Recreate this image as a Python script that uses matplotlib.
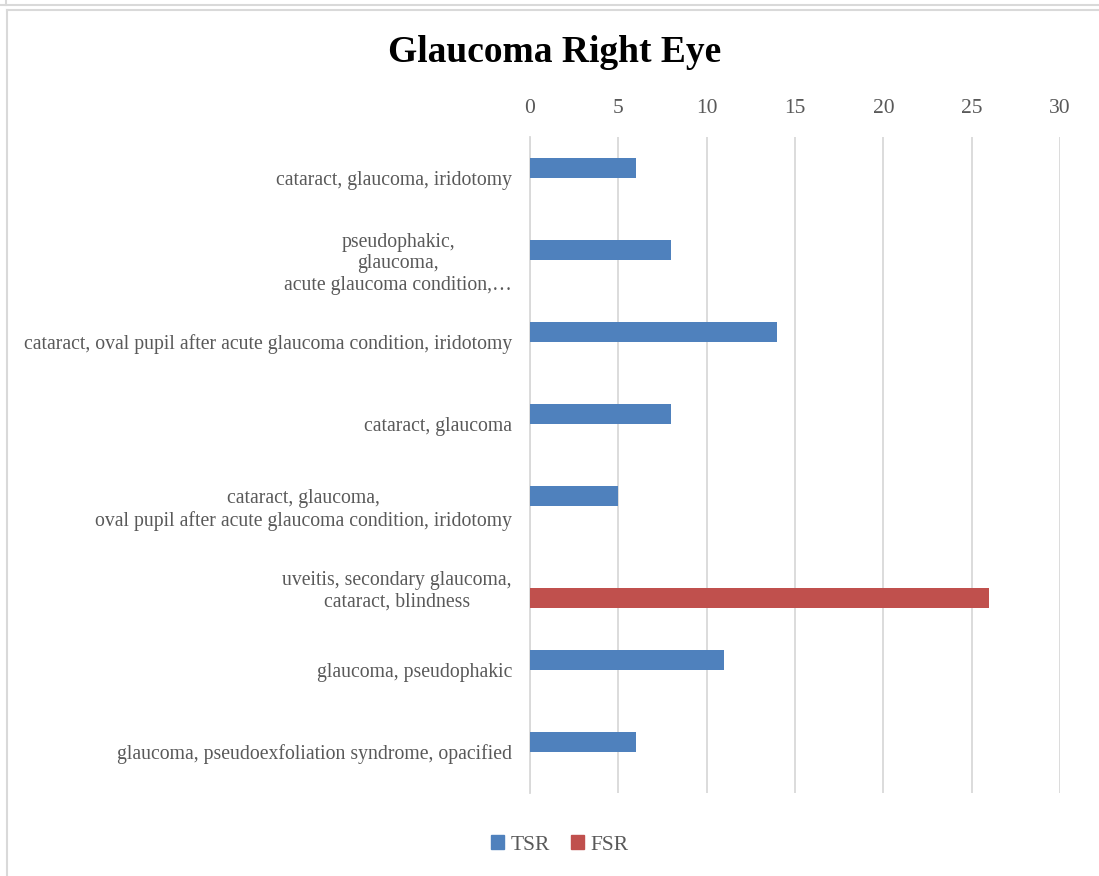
import matplotlib.pyplot as plt
from matplotlib.patches import Patch
from matplotlib.lines import Line2D
import numpy as np

plt.rcParams['font.family'] = ['Liberation Serif', 'DejaVu Serif']

categories = [
    'cataract, glaucoma, iridotomy',
    'pseudophakic,\nglaucoma,\nacute glaucoma condition,…',
    'cataract, oval pupil after acute glaucoma condition, iridotomy',
    'cataract, glaucoma',
    'cataract, glaucoma,\noval pupil after acute glaucoma condition, iridotomy',
    'uveitis, secondary glaucoma,\ncataract, blindness',
    'glaucoma, pseudophakic',
    'glaucoma, pseudoexfoliation syndrome, opacified',
]
tsr = [6, 8, 14, 8, 5, 0, 11, 6]
fsr = [0, 0, 0, 0, 0, 26, 0, 0]
xticks = [0, 5, 10, 15, 20, 25, 30]

blue = '#4F81BD'
red = '#C0504D'
grey_txt = '#595959'
grid_c = '#D9D9D9'

W, H = 1099, 876
fig = plt.figure(figsize=(W / 100, H / 100), dpi=100)
ax = fig.add_axes([530 / W, 1 - 793 / H, (1060 - 530) / W, (793 - 137) / H])

y = np.arange(len(categories))
h = 20 / 82
ax.barh(y - h / 2, tsr, height=h, color=blue, zorder=3)
ax.barh(y + h / 2, fsr, height=h, color=red, zorder=3)

ax.set_xlim(0, 30)
ax.set_ylim(len(categories) - 0.5, -0.5)
ax.set_xticks(xticks)
ax.set_yticks(y)
ax.set_yticklabels(categories, fontsize=14.2, color=grey_txt,
                   multialignment='center', linespacing=1.18)
ax.xaxis.tick_top()
ax.tick_params(axis='x', length=0, pad=14, labelsize=15.5, labelcolor=grey_txt)
ax.tick_params(axis='y', length=0, pad=13)
ax.grid(axis='x', color=grid_c, lw=1.3, zorder=0)
for s in ['top', 'right', 'bottom']:
    ax.spines[s].set_visible(False)
ax.spines['left'].set_color(grid_c)
ax.spines['left'].set_linewidth(1.3)

fig.text(555 / W, 1 - 52 / H, 'Glaucoma Right Eye', ha='center', va='center',
         fontsize=27, fontweight='bold', color='black')

handles = [Patch(color=blue, label='TSR'), Patch(color=red, label='FSR')]
fig.legend(handles=handles, loc='center', bbox_to_anchor=(560 / W, 1 - 845 / H),
           ncol=2, frameon=False, fontsize=15.5, labelcolor=grey_txt,
           handlelength=0.6, handleheight=0.6, handletextpad=0.3,
           columnspacing=1.0)

# frame lines of the chart area
fig.add_artist(Line2D([0, 1], [1 - 5 / H, 1 - 5 / H], color=grid_c, lw=1.5))
fig.add_artist(Line2D([6 / W, 6 / W], [1, 1 - 5 / H], color=grid_c, lw=1.5))
fig.add_artist(Line2D([7 / W, 1], [1 - 10 / H, 1 - 10 / H], color=grid_c, lw=1.5))
fig.add_artist(Line2D([7 / W, 7 / W], [0, 1 - 10 / H], color=grid_c, lw=1.5))

fig.savefig('out.png', dpi=100)
